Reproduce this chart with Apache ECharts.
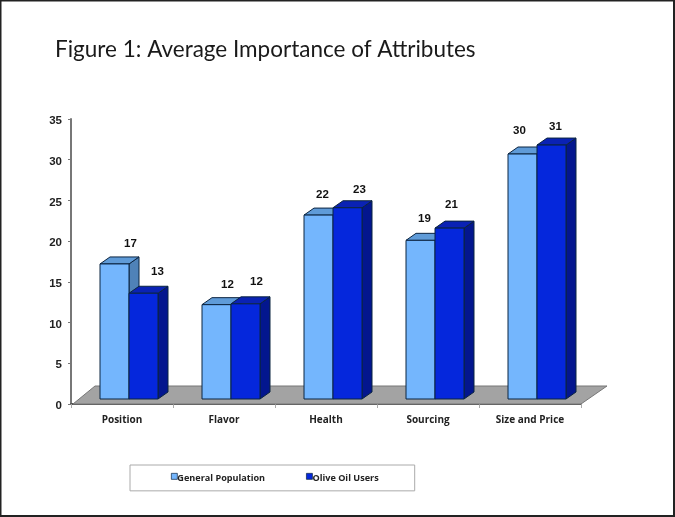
<!DOCTYPE html>
<html><head><meta charset="utf-8">
<script src="https://cdn.jsdelivr.net/npm/echarts@6/dist/echarts.min.js"></script>
<style>html,body{margin:0;padding:0;background:#fff}#c{width:675px;height:517px}</style>
</head><body><div id="c"></div>
<script>
var categories = ['Position', 'Flavor', 'Health', 'Sourcing', 'Size and Price'];
var seriesNames = ['General Population', 'Olive Oil Users'];
// printed value labels
var generalLabels = [17, 12, 22, 19, 30];
var oliveLabels = [13, 12, 23, 21, 31];
// bar tops as read against the axis
var generalTops = [17.2, 12.2, 23.2, 20.1, 30.7];
var oliveTops = [13.6, 12.3, 24.1, 21.6, 31.8];
var yTicks = {min: 0, max: 35, interval: 5};

var DX = 10, DY = 7, BW = 29, BASE = 5;
var labelNudgeLight = [[11, -20], [6, -20], [-1, -20], [-1, -22], [-8, -23]];
var labelNudgeDark = [[9, -21], [6, -22], [7, -18], [-3, -23], [-1, -18]];
var styles = [
  {front: '#74b6fd', top: '#5f9bd8', side: '#4f82b8'},
  {front: '#0527dc', top: '#0a22b4', side: '#03168e'}
];
var edge = '#0b2440';

function bar3d(si, labels, tops, nudges) {
  return function (params, api) {
    var i = api.value(0);
    var c = api.coord([i, tops[i]]);
    var z = api.coord([i, 0]);
    var x0 = c[0] - 22 + si * BW, x1 = x0 + BW, yt = c[1], yb = z[1] - BASE;
    var s = styles[si];
    var ln = {stroke: edge, lineWidth: 1, lineJoin: 'round'};
    function poly(pts, fill) {
      return {type: 'polygon', shape: {points: pts}, style: Object.assign({fill: fill}, ln)};
    }
    return {type: 'group', children: [
      poly([[x1, yt], [x1 + DX, yt - DY], [x1 + DX, yb - DY], [x1, yb]], s.side),
      poly([[x0, yt], [x0 + DX, yt - DY], [x1 + DX, yt - DY], [x1, yt]], s.top),
      poly([[x0, yt], [x1, yt], [x1, yb], [x0, yb]], s.front),
      {type: 'text', style: {
        x: x0 + BW / 2 + nudges[i][0] + DX / 2, y: yt + nudges[i][1],
        text: String(labels[i]), fill: '#111',
        font: 'bold 11.5px "Liberation Sans"', align: 'center', verticalAlign: 'middle'
      }}
    ]};
  };
}

function floor(params, api) {
  var a = api.coord([0, 0]);
  var b = api.coord([categories.length - 1, 0]);
  var half = (b[0] - a[0]) / (categories.length - 1) / 2;
  var l = a[0] - half, r = b[0] + half, y = a[1];
  return {type: 'polygon', shape: {points: [[l + 2, y], [l + 24, y - 18], [r + 26, y - 18], [r, y]]},
    style: {fill: '#a3a3a3', stroke: '#777', lineWidth: 1}};
}

var idx = categories.map(function (c, i) { return [i]; });
var chart = echarts.init(document.getElementById('c'));
chart.setOption({
  animation: false,
  backgroundColor: '#fff',
  title: {text: 'Figure 1: Average Importance of Attributes', left: 50, top: 33,
    textStyle: {fontFamily: 'Lato', fontWeight: 'normal', fontSize: 22.5, color: '#1a1a1a'}},
  graphic: [{type: 'rect', shape: {x: 0.5, y: 0.5, width: 673.5, height: 515.5},
    style: {stroke: '#222', lineWidth: 2, fill: null}, z: 10}],
  grid: {left: 71, top: 119, width: 510, height: 285, containLabel: false},
  legend: {
    left: 130, top: 465, orient: 'horizontal', data: seriesNames,
    backgroundColor: '#fff', borderColor: '#aaa', borderWidth: 1,
    padding: [8, 36, 8, 41], itemGap: 41, itemWidth: 6, itemHeight: 6, icon: 'rect',
    itemStyle: {borderWidth: 0.7, borderColor: '#0b2440'},
    formatter: '{a|{name}}',
    textStyle: {padding: [0, 0, 0, -5], rich: {a: {fontFamily: 'Open Sans', fontWeight: 'bold', fontSize: 9.1, color: '#222', padding: [4, 0, 0, 0]}}}
  },
  xAxis: {type: 'category', data: categories,
    axisLine: {lineStyle: {color: '#555', width: 2}},
    axisTick: {show: true, length: 4, lineStyle: {color: '#aaa'}},
    axisLabel: {margin: 11, fontFamily: 'Open Sans', fontWeight: 'bold', fontSize: 10, color: '#222'}},
  yAxis: {type: 'value', min: yTicks.min, max: yTicks.max, interval: yTicks.interval,
    splitLine: {show: false},
    axisLine: {show: true, lineStyle: {color: '#777', width: 2}},
    axisTick: {show: true, length: 3, lineStyle: {color: '#777'}},
    axisLabel: {margin: 9, formatter: '{a|{value}}',
      rich: {a: {fontFamily: 'Liberation Sans', fontWeight: 'bold', fontSize: 11.5, color: '#222', padding: [4, 0, 0, 0]}}}},
  series: [
    {type: 'custom', name: 'floor', silent: true, clip: false, z: 1, data: [[0]], renderItem: floor},
    {type: 'custom', name: seriesNames[0], clip: false, z: 2, data: idx,
      itemStyle: {color: styles[0].front, borderColor: edge, borderWidth: 1},
      renderItem: bar3d(0, generalLabels, generalTops, labelNudgeLight)},
    {type: 'custom', name: seriesNames[1], clip: false, z: 3, data: idx,
      itemStyle: {color: styles[1].front, borderColor: edge, borderWidth: 1},
      renderItem: bar3d(1, oliveLabels, oliveTops, labelNudgeDark)}
  ]
});
</script></body></html>
